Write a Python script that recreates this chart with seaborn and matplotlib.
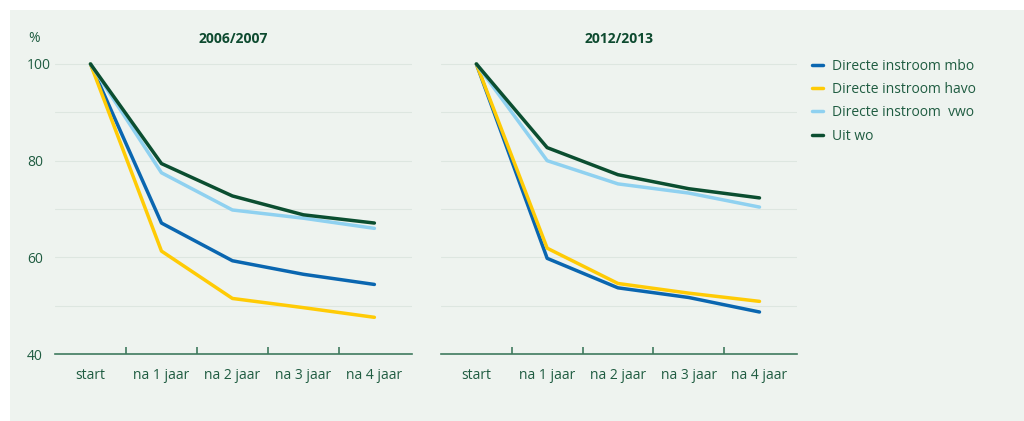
import pandas as pd
import seaborn as sns
import matplotlib.pyplot as plt
from matplotlib.patches import Rectangle

# categories and series (percentage still enrolled)
periods = ["start", "na 1 jaar", "na 2 jaar", "na 3 jaar", "na 4 jaar"]
series = ["Directe instroom mbo", "Directe instroom havo", "Directe instroom  vwo", "Uit wo"]

mbo_0607 = [100, 67.1, 59.3, 56.5, 54.4]
havo_0607 = [100, 61.3, 51.5, 49.6, 47.6]
vwo_0607 = [100, 77.5, 69.8, 68.1, 66.0]
wo_0607 = [100, 79.4, 72.7, 68.8, 67.1]

mbo_1213 = [100, 59.8, 53.7, 51.7, 48.7]
havo_1213 = [100, 61.9, 54.6, 52.6, 50.9]
vwo_1213 = [100, 80.0, 75.2, 73.3, 70.4]
wo_1213 = [100, 82.7, 77.1, 74.2, 72.3]

panels = ["2006/2007", "2012/2013"]
yticks = [40, 60, 80, 100]

colors = ["#0a66b0", "#ffcb05", "#8fd1f0", "#0b4e30"]
bg = "#eef3ef"
text_col = "#1f5c41"
title_col = "#0d4a2f"
axis_col = "#3f7a5e"
grid_col = "#dde6e0"

sns.set_theme(style="white")
plt.rcParams["font.family"] = ["Open Sans", "DejaVu Sans"]

# build long tables
frames = []
for panel, vals in zip(panels, [[mbo_0607, havo_0607, vwo_0607, wo_0607],
                                [mbo_1213, havo_1213, vwo_1213, wo_1213]]):
    for name, v in zip(series, vals):
        frames.append(pd.DataFrame({"panel": panel, "serie": name, "periode": periods, "waarde": v}))
df = pd.concat(frames, ignore_index=True)

fig = plt.figure(figsize=(10.24, 4.21), dpi=100)
fig.patch.set_facecolor("white")
fig.patches.append(Rectangle((10 / 1024, 0), 1, 1 - 10 / 421, transform=fig.transFigure,
                             facecolor=bg, edgecolor="none", zorder=-10))

ax1 = fig.add_axes([55 / 1024, 0.159, 357 / 1024, 0.712])
ax2 = fig.add_axes([441 / 1024, 0.159, 356 / 1024, 0.712])

for ax, panel in zip([ax1, ax2], panels):
    ax.set_facecolor("none")
    sub = df[df["panel"] == panel]
    sns.lineplot(data=sub, x="periode", y="waarde", hue="serie", hue_order=series,
                 palette=colors, linewidth=2.5, sort=False, ax=ax)
    ax.set_xlim(-0.5, 4.53)
    ax.set_ylim(40, 102)
    for g in range(50, 101, 10):
        ax.axhline(g, color=grid_col, linewidth=0.8, zorder=0)
    for s in ["top", "right", "left"]:
        ax.spines[s].set_visible(False)
    ax.spines["bottom"].set_color(axis_col)
    ax.spines["bottom"].set_linewidth(1.2)
    ax.set_xlabel("")
    ax.set_ylabel("")
    ax.set_xticks(range(len(periods)))
    ax.set_xticklabels(periods, color=text_col, fontsize=10)
    ax.set_xticks([0.5, 1.5, 2.5, 3.5], minor=True)
    ax.tick_params(axis="x", which="major", length=0, pad=10)
    ax.tick_params(axis="x", which="minor", length=5, width=1.2, color=axis_col, direction="in", bottom=True)
    ax.set_title(panel, fontsize=10, fontweight="bold", color=title_col, pad=8)
    handles, labels = ax.get_legend_handles_labels()
    ax.get_legend().remove()

ax1.set_yticks(yticks)
ax1.set_yticklabels([str(t) for t in yticks], color=text_col, fontsize=10, ha="left")
ax1.tick_params(axis="y", length=0, pad=20)
ax2.set_yticks([])

fig.text(28 / 1024, 1 - 38 / 421, "%", color=text_col, fontsize=10, va="center")

fig.legend(handles, labels, loc="upper left", bbox_to_anchor=(806 / 1024, 1 - 53 / 421),
           frameon=False, fontsize=10, labelcolor=text_col, handlelength=0.85,
           handletextpad=0.6, labelspacing=0.6, borderaxespad=0)

fig.savefig("out.png", dpi=100, facecolor=fig.get_facecolor())
